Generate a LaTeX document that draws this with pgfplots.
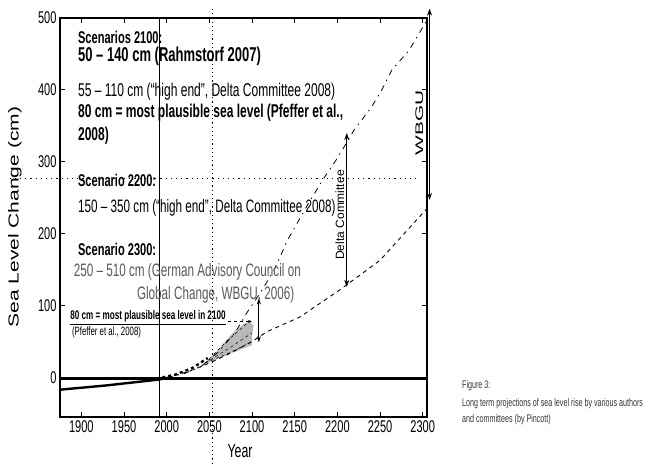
\documentclass[border=0pt]{standalone}
\usepackage{pgfplots}
\pgfplotsset{compat=1.18}
\usetikzlibrary{arrows.meta}
\usepackage{fontspec}
\setmainfont{Liberation Sans}
\newfontfamily\cond{Liberation Sans}[FakeStretch=0.65]
\newfontfamily\wide{Liberation Sans}[FakeStretch=1.45]
\newfontfamily\wider{Liberation Sans}[FakeStretch=1.9]
\newcommand\fs[1]{\fontsize{#1}{#1}\selectfont}
\begin{document}
\begin{tikzpicture}
\begin{axis}[
  scale only axis,
  width=367pt, height=399pt,
  xmin=1875, xmax=2305, ymin=-55, ymax=500,
  xtick={1900,1950,...,2300}, ytick={0,100,...,500},
  tick align=inside, tick pos=both,
  major tick length=5pt,
  every tick/.style={black, line width=0.8pt},
  axis line style={line width=1.6pt},
  /pgf/number format/assume math mode=true,
  /pgf/number format/1000 sep={},
  ticklabel style={font=\cond\fs{17}},
  clip=false,
]
% reference lines
\addplot[black, line width=0.9pt] coordinates {(1992,-55) (1992,500)};
\addplot[black, line width=0.8pt, dash pattern=on 1.2pt off 3pt] coordinates {(2054,-120) (2054,512)};
\addplot[black, line width=0.8pt, dash pattern=on 1.2pt off 4pt] coordinates {(1816,277) (2294,277)};
% historical and zero line
\addplot[black, line width=2.8pt] coordinates {(1875,-1) (2305,-1)};
\addplot[black, line width=2.4pt] coordinates {(1875,-17) (1930,-11) (1960,-7) (1990,-3) (2000,-1)};
% fan of projections
\addplot[fill=gray!55, draw=none] coordinates {(2040,16) (2050,26) (2060,38) (2070,52) (2080,65) (2090,74) (2097,78) (2102,72) (2100,60) (2100,45) (2080,36) (2060,26) (2040,16)};
\addplot[black, line width=0.5pt, dashed] coordinates {(2045,20) (2070,50) (2095,76)};
\addplot[black, line width=0.5pt, dashed] coordinates {(2045,20) (2075,42) (2100,62)};
\addplot[black, line width=0.5pt, dashed] coordinates {(2045,20) (2075,35) (2100,50)};
% mean projection
\addplot[black, line width=2.4pt, dash pattern=on 3pt off 3pt] coordinates {(1995,0) (2010,4) (2030,13) (2048,27)};
% upper scenario curve
\addplot[black, line width=0.8pt, dash pattern=on 6pt off 5pt on 1.5pt off 5pt] coordinates {(2000,0) (2020,5) (2040,15) (2060,35) (2080,62) (2095,92) (2110,118) (2126,150) (2142,192) (2165,240) (2183,275) (2201,307) (2220,345) (2240,376) (2252,400) (2264,428) (2284,455) (2305,497)};
% lower scenario curve
\addplot[black, line width=0.9pt, dash pattern=on 4pt off 4pt] coordinates {(2000,0) (2025,8) (2050,20) (2075,34) (2100,50) (2118,64) (2156,84) (2203,122) (2250,163) (2282,205) (2305,235)};
% arrows
\addplot[black, line width=0.9pt, {Stealth[length=6pt,width=4pt]}-{Stealth[length=6pt,width=4pt]}] coordinates {(2108,49) (2108,110)};
\addplot[black, line width=1.2pt, {Stealth[length=7pt,width=5pt]}-{Stealth[length=7pt,width=5pt]}] coordinates {(2211,126) (2211,340)};
\addplot[black, line width=1.2pt, {Stealth[length=7pt,width=5pt]}-{Stealth[length=7pt,width=5pt]}] coordinates {(2308,247) (2308,513)};
\addplot[black, line width=0.6pt, dashed, -{Stealth[length=4pt]}] coordinates {(2072,78) (2100,78)};
% texts
\node[anchor=base west, inner sep=0pt, font=\cond\bfseries\fs{17}] at (axis cs:1896,465) {Scenarios 2100:};
\node[anchor=base west, inner sep=0pt, font=\cond\bfseries\fs{20}] at (axis cs:1896,440) {50 – 140 cm (Rahmstorf 2007)};
\node[anchor=base west, inner sep=0pt, font=\cond\fs{18.5}] at (axis cs:1896,391) {55 – 110 cm (“high end”, Delta Committee 2008)};
\node[anchor=base west, inner sep=0pt, font=\cond\bfseries\fs{18.5}] at (axis cs:1896,361) {80 cm = most plausible sea level (Pfeffer et al.,};
\node[anchor=base west, inner sep=0pt, font=\cond\bfseries\fs{18.5}] at (axis cs:1896,330) {2008)};
\node[anchor=base west, inner sep=0pt, font=\cond\bfseries\fs{17}] at (axis cs:1896,265) {Scenario 2200:};
\node[anchor=base west, inner sep=0pt, font=\cond\fs{18}] at (axis cs:1896,230) {150 – 350 cm (“high end”, Delta Committee 2008)};
\node[anchor=base west, inner sep=0pt, font=\cond\bfseries\fs{17}] at (axis cs:1896,170) {Scenario 2300:};
\node[anchor=base west, inner sep=0pt, font=\cond\fs{18}, text=black!65] at (axis cs:1891,140) {250 – 510 cm (German Advisory Council on};
\node[anchor=base west, inner sep=0pt, font=\cond\fs{18}, text=black!65] at (axis cs:1965,108) {Global Change, WBGU, 2006)};
\node[anchor=base west, inner sep=0pt, font=\cond\bfseries\fs{12.5}] at (axis cs:1887,80) {\underline{80 cm = most plausible sea level in 2100}};
\node[anchor=base west, inner sep=0pt, font=\cond\fs{12}] at (axis cs:1889,59) {(Pfeffer et al., 2008)};
\node[rotate=90, inner sep=0pt, font=\fs{12}] at (axis cs:2203,226) {Delta Committee};
\node[rotate=90, inner sep=0pt, font=\wider\fs{11}] at (axis cs:2296,354) {WBGU};
% axis labels
\node[rotate=90, inner sep=0pt, font=\wide\fs{14.5}] at (axis cs:1822,223) {Sea Level Change (cm)};
\node[inner sep=0pt, font=\cond\fs{19}] at (axis cs:2086,-102) {Year};
% caption
\node[anchor=base west, inner sep=0pt, font=\cond\fs{11}, text=black!80] at (axis cs:2346,-16) {Figure 3:};
\node[anchor=base west, inner sep=0pt, font=\cond\fs{11}, text=black!80] at (axis cs:2346,-40) {Long term projections of sea level rise by various authors};
\node[anchor=base west, inner sep=0pt, font=\cond\fs{11}, text=black!80] at (axis cs:2346,-62) {and committees (by Pincott)};
\end{axis}
\path (current axis.south west) ++(-60pt,-55pt) rectangle ++(668pt,472pt);
\end{tikzpicture}
\end{document}
